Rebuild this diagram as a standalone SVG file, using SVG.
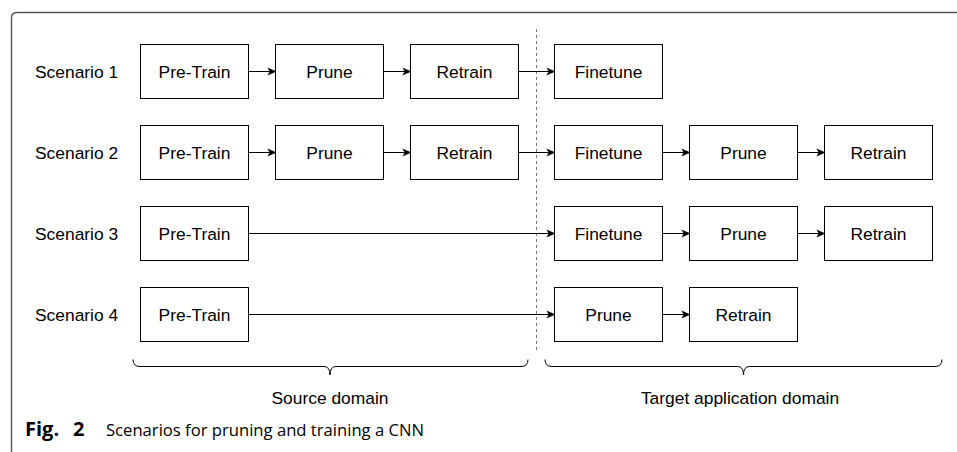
<svg xmlns="http://www.w3.org/2000/svg" width="957" height="452" viewBox="0 0 957 452">
<style>
.box{fill:#fff;stroke:#000;stroke-width:1}
.lbl{font-family:"Liberation Sans",Arial,sans-serif;font-size:17.4px;fill:#000;text-anchor:middle}
.row{font-family:"Liberation Sans",Arial,sans-serif;font-size:17.4px;fill:#000}
.arr{stroke:#000;stroke-width:1;fill:none;marker-end:url(#ah)}
.brace{stroke:#000;stroke-width:1;fill:none}
.cap{font-family:"Open Sans","Noto Sans",sans-serif;font-size:16.8px;fill:#000}
.capb{font-family:"Open Sans","Noto Sans",sans-serif;font-size:20px;font-weight:bold;fill:#000}
</style>
<defs>
<marker id="ah" viewBox="0 0 10 10" refX="9" refY="5" markerWidth="9" markerHeight="9" markerUnits="userSpaceOnUse" orient="auto">
<path d="M0,0.5 L10,5 L0,9.5 L2.5,5 Z" fill="#000"/>
</marker>
</defs>
<path d="M11.5,452 L11.5,18 Q11.5,12.5 17,12.5 L957,12.5" fill="none" stroke="#555" stroke-width="1.4"/>
<g id="row-labels">
<text class="row" x="35" y="77.5">Scenario 1</text>
<text class="row" x="35" y="158.5">Scenario 2</text>
<text class="row" x="35" y="239.5">Scenario 3</text>
<text class="row" x="35" y="320.5">Scenario 4</text>
</g>
<line id="divider" x1="536.5" y1="29" x2="536.5" y2="350" stroke="#777" stroke-width="1" stroke-dasharray="3,3"/>
<g id="connectors">
<line class="arr" x1="248.5" y1="71.5" x2="275.5" y2="71.5"/>
<line class="arr" x1="383.5" y1="71.5" x2="410.5" y2="71.5"/>
<line class="arr" x1="518.5" y1="71.5" x2="554.5" y2="71.5"/>
<line class="arr" x1="248.5" y1="152.5" x2="275.5" y2="152.5"/>
<line class="arr" x1="383.5" y1="152.5" x2="410.5" y2="152.5"/>
<line class="arr" x1="518.5" y1="152.5" x2="554.5" y2="152.5"/>
<line class="arr" x1="662.5" y1="152.5" x2="689.5" y2="152.5"/>
<line class="arr" x1="797.5" y1="152.5" x2="824.5" y2="152.5"/>
<line class="arr" x1="248.5" y1="233.5" x2="554.5" y2="233.5"/>
<line class="arr" x1="662.5" y1="233.5" x2="689.5" y2="233.5"/>
<line class="arr" x1="797.5" y1="233.5" x2="824.5" y2="233.5"/>
<line class="arr" x1="248.5" y1="314.5" x2="554.5" y2="314.5"/>
<line class="arr" x1="662.5" y1="314.5" x2="689.5" y2="314.5"/>
</g>
<g id="s1-pretrain"><rect class="box" x="140.5" y="44.5" width="108" height="54"/><text class="lbl" x="194.5" y="77.7">Pre-Train</text></g>
<g id="s1-prune"><rect class="box" x="275.5" y="44.5" width="108" height="54"/><text class="lbl" x="329.5" y="77.7">Prune</text></g>
<g id="s1-retrain"><rect class="box" x="410.5" y="44.5" width="108" height="54"/><text class="lbl" x="464.5" y="77.7">Retrain</text></g>
<g id="s1-finetune"><rect class="box" x="554.5" y="44.5" width="108" height="54"/><text class="lbl" x="608.5" y="77.7">Finetune</text></g>
<g id="s2-pretrain"><rect class="box" x="140.5" y="125.5" width="108" height="54"/><text class="lbl" x="194.5" y="158.7">Pre-Train</text></g>
<g id="s2-prune"><rect class="box" x="275.5" y="125.5" width="108" height="54"/><text class="lbl" x="329.5" y="158.7">Prune</text></g>
<g id="s2-retrain"><rect class="box" x="410.5" y="125.5" width="108" height="54"/><text class="lbl" x="464.5" y="158.7">Retrain</text></g>
<g id="s2-finetune"><rect class="box" x="554.5" y="125.5" width="108" height="54"/><text class="lbl" x="608.5" y="158.7">Finetune</text></g>
<g id="s2-prune2"><rect class="box" x="689.5" y="125.5" width="108" height="54"/><text class="lbl" x="743.5" y="158.7">Prune</text></g>
<g id="s2-retrain2"><rect class="box" x="824.5" y="125.5" width="108" height="54"/><text class="lbl" x="878.5" y="158.7">Retrain</text></g>
<g id="s3-pretrain"><rect class="box" x="140.5" y="206.5" width="108" height="54"/><text class="lbl" x="194.5" y="239.7">Pre-Train</text></g>
<g id="s3-finetune"><rect class="box" x="554.5" y="206.5" width="108" height="54"/><text class="lbl" x="608.5" y="239.7">Finetune</text></g>
<g id="s3-prune"><rect class="box" x="689.5" y="206.5" width="108" height="54"/><text class="lbl" x="743.5" y="239.7">Prune</text></g>
<g id="s3-retrain"><rect class="box" x="824.5" y="206.5" width="108" height="54"/><text class="lbl" x="878.5" y="239.7">Retrain</text></g>
<g id="s4-pretrain"><rect class="box" x="140.5" y="287.5" width="108" height="54"/><text class="lbl" x="194.5" y="320.7">Pre-Train</text></g>
<g id="s4-prune"><rect class="box" x="554.5" y="287.5" width="108" height="54"/><text class="lbl" x="608.5" y="320.7">Prune</text></g>
<g id="s4-retrain"><rect class="box" x="689.5" y="287.5" width="108" height="54"/><text class="lbl" x="743.5" y="320.7">Retrain</text></g>
<g id="source-domain">
<path class="brace" d="M133,359.5 Q133,366.5 140,366.5 L324,366.5 Q330,366.5 330,375 Q330,366.5 336,366.5 L521,366.5 Q528,366.5 528,359.5"/>
<text class="lbl" x="330" y="404">Source domain</text>
</g>
<g id="target-domain">
<path class="brace" d="M545,359.5 Q545,366.5 552,366.5 L737.5,366.5 Q743.5,366.5 743.5,375 Q743.5,366.5 749.5,366.5 L935,366.5 Q942,366.5 942,359.5"/>
<text class="lbl" x="740" y="404">Target application domain</text>
</g>
<g id="caption">
<text class="capb" x="25" y="436">Fig.<tspan x="73">2</tspan></text>
<text class="cap" x="106" y="436" textLength="318" lengthAdjust="spacingAndGlyphs">Scenarios for pruning and training a CNN</text>
</g>
</svg>
